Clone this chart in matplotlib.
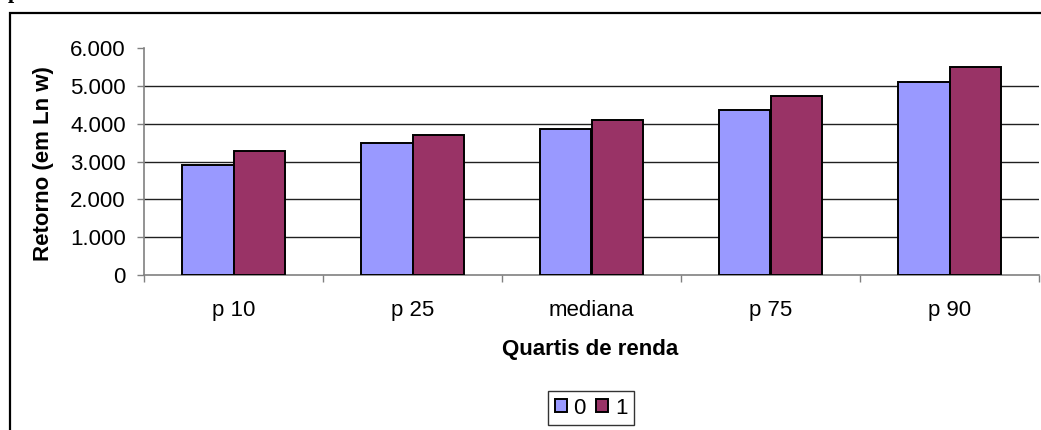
import matplotlib
matplotlib.use("Agg")
import matplotlib.pyplot as plt
from matplotlib.patches import Rectangle
import numpy as np

categories = ["p 10", "p 25", "mediana", "p 75", "p 90"]
series_names = ["0", "1"]
values_0 = [2920, 3500, 3860, 4370, 5100]
values_1 = [3270, 3690, 4090, 4730, 5500]
y_ticks = [0, 1000, 2000, 3000, 4000, 5000, 6000]
y_tick_labels = ["0", "1.000", "2.000", "3.000", "4.000", "5.000", "6.000"]

plt.rcParams["font.family"] = ["Liberation Sans", "DejaVu Sans"]

W, H = 1041, 430
fig = plt.figure(figsize=(W / 100, H / 100), dpi=100)

ax = fig.add_axes([144 / W, 1 - 275 / H, (1039 - 144) / W, (275 - 48) / H])

x = np.arange(len(categories))
bw = 0.285
ax.bar(x - bw / 2, values_0, width=bw, color="#9999FF", edgecolor="black",
       linewidth=1.4, label=series_names[0], zorder=3)
ax.bar(x + bw / 2, values_1, width=bw, color="#993366", edgecolor="black",
       linewidth=1.4, label=series_names[1], zorder=3)

ax.set_xlim(-0.5, len(categories) - 0.5)
ax.set_ylim(0, 6000)

ax.set_yticks(y_ticks)
ax.set_yticklabels(y_tick_labels)
ax.set_xticks(x)
ax.set_xticklabels(categories)
ax.set_xticks(np.arange(len(categories) + 1) - 0.5, minor=True)

ax.tick_params(axis="y", length=5, width=1, color="#808080", pad=8, labelsize=16)
ax.tick_params(axis="x", which="major", length=0, pad=18, labelsize=16)
ax.tick_params(axis="x", which="minor", length=5, width=1, color="#808080")

for val in y_ticks[1:-1]:
    ax.axhline(val, color="#202020", linewidth=1, zorder=1)

for side in ("top", "right"):
    ax.spines[side].set_visible(False)
for side in ("left", "bottom"):
    ax.spines[side].set_color("#808080")
    ax.spines[side].set_linewidth(1.2)

fig.text(44 / W, 1 - 164 / H, "Retorno (em Ln w)", rotation=90, ha="center",
         va="center", fontsize=16, fontweight="bold")
fig.text(590 / W, 1 - 349 / H, "Quartis de renda", ha="center", va="center",
         fontsize=16, fontweight="bold")

leg = ax.legend(loc="center", bbox_to_anchor=(591 / W, 1 - 408 / H),
                bbox_transform=fig.transFigure, ncol=2, fontsize=16,
                frameon=True, fancybox=False, handlelength=0.55,
                handleheight=0.55, handletextpad=0.3, columnspacing=0.45,
                borderpad=0.3, borderaxespad=0)
leg.get_frame().set_edgecolor("black")
leg.get_frame().set_linewidth(1)

# outer chart frame
fig.patches.append(Rectangle((10 / W, -0.1), 1.2, 1 - 12.5 / H + 0.1,
                             transform=fig.transFigure, fill=False,
                             edgecolor="black", linewidth=1.6))

fig.text(8 / W, 1 - 3 / H, "p", ha="left", va="bottom", fontsize=16,
         fontweight="bold", family=["Liberation Serif"])

fig.savefig("out.png", dpi=100)
